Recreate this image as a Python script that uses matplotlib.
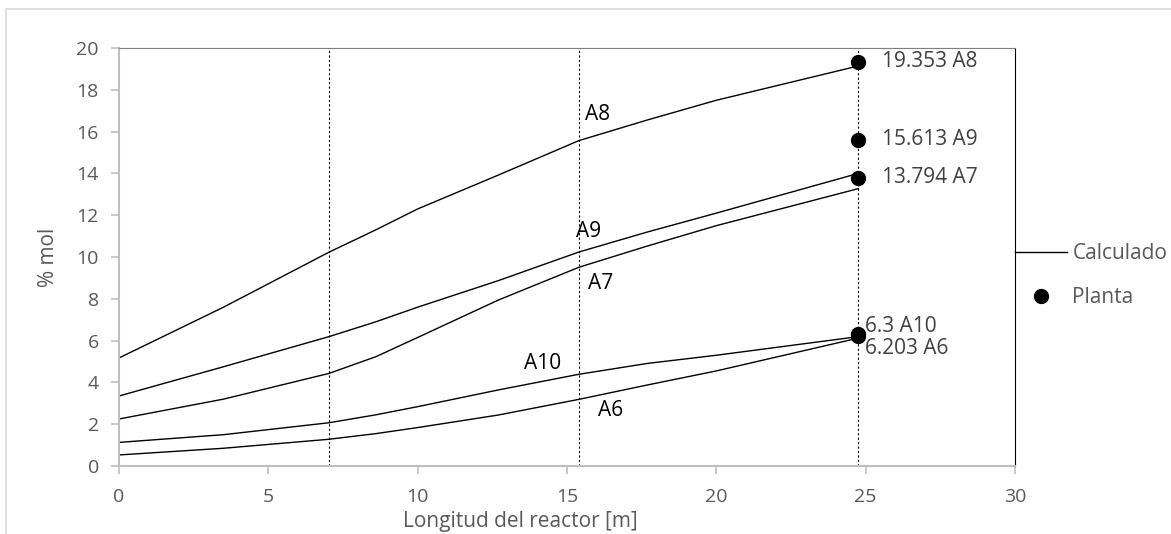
import numpy as np
import matplotlib.pyplot as plt
from matplotlib.patches import Rectangle

plt.rcParams['font.family'] = ['Open Sans', 'DejaVu Sans']

# posiciones (m)
x = [0, 3.5, 7.03, 8.6, 10, 12.7, 15.4, 17.7, 20, 24.75]

A8 = [5.17, 7.6, 10.23, 11.3, 12.3, 13.92, 15.57, 16.56, 17.5, 19.14]
A9 = [3.35, 4.75, 6.19, 6.9, 7.6, 8.87, 10.24, 11.2, 12.1, 14.0]
A7 = [2.25, 3.2, 4.43, 5.23, 6.15, 7.94, 9.51, 10.53, 11.5, 13.27]
A10 = [1.13, 1.5, 2.07, 2.45, 2.84, 3.64, 4.39, 4.91, 5.3, 6.19]
A6 = [0.53, 0.85, 1.28, 1.55, 1.84, 2.44, 3.19, 3.88, 4.55, 6.12]

series = [A8, A9, A7, A10, A6]

# datos de planta
x_planta = 24.75
y_planta = [19.353, 15.613, 13.794, 6.3, 6.203]
lab_planta = ['19.353 A8', '15.613 A9', '13.794 A7', '6.3 A10', '6.203 A6']

# lineas verticales (lechos)
x_lechos = [7.03, 15.4, 24.75]

curve_names = ['A8', 'A9', 'A7', 'A10', 'A6']
curve_lab_pos = [(16.02, 16.8), (15.72, 11.21), (16.13, 8.71), (14.17, 4.91), (16.47, 2.65)]

fig = plt.figure(figsize=(11.71, 5.34), dpi=100)
ax = fig.add_axes([0.1016, 0.1273, 0.7652, 0.7828])

# marco del area del grafico
fig.patches.append(Rectangle((0.005, -0.1), 1.2, 1.083, transform=fig.transFigure,
                             fill=False, edgecolor='#d9d9d9', lw=1.2))

for xl in x_lechos:
    ax.axvline(xl, color='black', ls=(0, (2, 2)), lw=0.8)

for i, s in enumerate(series):
    ax.plot(x, s, color='black', lw=1.0, label='Calculado' if i == 0 else None)

ax.plot([x_planta] * len(y_planta), y_planta, 'o', color='black', ms=10,
        label='Planta', zorder=5)

for yv, t in zip(y_planta, lab_planta):
    if t.startswith('6.3 '):
        ax.text(x_planta + 0.22, 6.67, t, fontsize=15, color='#404040',
                va='center', ha='left')
    elif t.startswith('6.203'):
        ax.text(x_planta + 0.22, 5.63, t, fontsize=15, color='#404040',
                va='center', ha='left')
    else:
        ax.text(x_planta + 0.78, yv, t, fontsize=15, color='#404040',
                va='center', ha='left')

for n, (px, py) in zip(curve_names, curve_lab_pos):
    ax.text(px, py, n, fontsize=15, color='black', ha='center', va='center')

ax.set_xlim(0, 30)
ax.set_ylim(0, 20)
ax.set_xticks(range(0, 31, 5))
ax.set_yticks(range(0, 21, 2))
ax.tick_params(direction='out', length=5.5, width=1.2, color='#bfbfbf',
               labelcolor='#595959', labelsize=14)
ax.tick_params(axis='x', pad=10)
ax.tick_params(axis='y', pad=9)
for sp in ['left', 'bottom']:
    ax.spines[sp].set_color('#bfbfbf')
    ax.spines[sp].set_linewidth(1.5)
ax.spines['top'].set_color('#7f7f7f')
ax.spines['right'].set_color('black')

ax.set_xlabel('Longitud del reactor [m]', fontsize=15, color='#595959', va='center')
ax.xaxis.set_label_coords(0.4475, -0.1316)
ax.set_ylabel('% mol', fontsize=15, color='#595959', va='center')
ax.yaxis.set_label_coords(-0.079, 0.5)

ax.legend(loc='center left', bbox_to_anchor=(1.0, 0.456), frameon=False,
          borderaxespad=0, borderpad=0, fontsize=15, labelcolor='#595959',
          handlelength=2.5, handletextpad=0.25, labelspacing=1.1)

fig.savefig('out.png', dpi=100)
